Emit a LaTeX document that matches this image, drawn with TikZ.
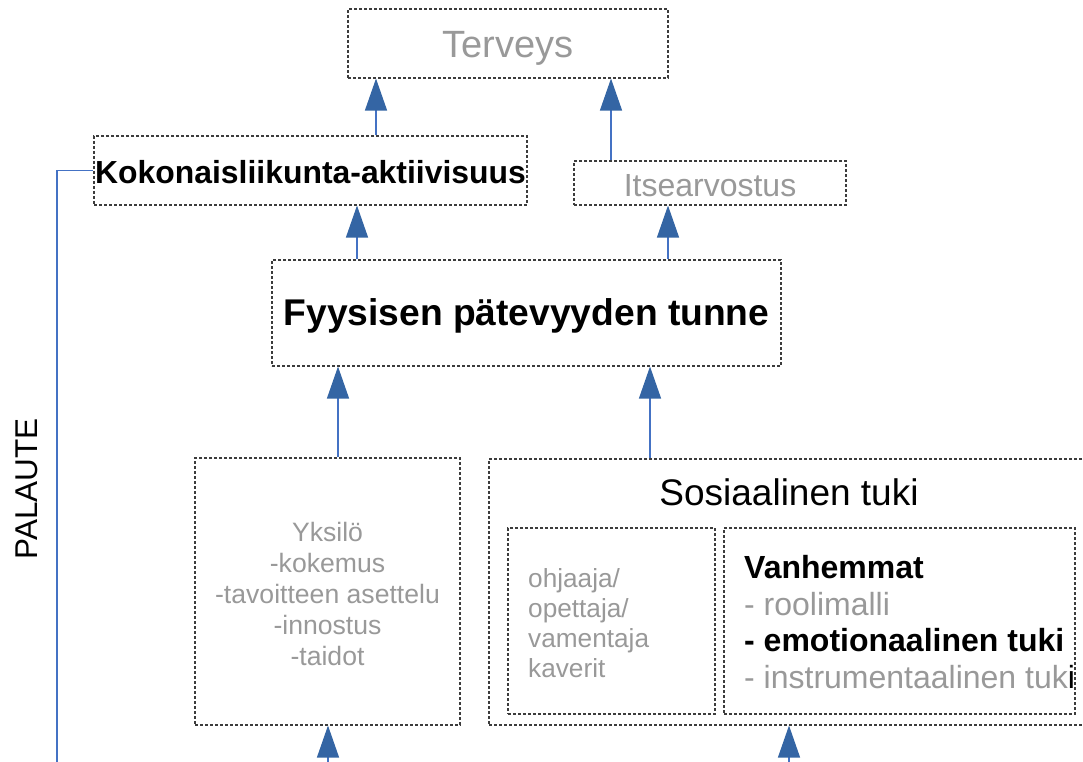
\documentclass[tikz,border=0pt]{standalone}
\usepackage{fontspec}
\setmainfont{Liberation Sans}
\usetikzlibrary{arrows.meta}
\definecolor{txtgray}{RGB}{153,153,153}
\definecolor{boxline}{RGB}{60,60,60}
\definecolor{lineblue}{RGB}{68,114,196}
\definecolor{arrowblue}{RGB}{52,101,164}
\newcommand{\fs}[2]{\fontsize{#1}{#2}\selectfont}
\tikzset{
  dbox/.style={draw=boxline, line width=1.1pt, dash pattern=on 3pt off 2pt, inner sep=0pt, rectangle},
  conn/.style={draw=lineblue, line width=1.2pt, -{Triangle[width=22pt,length=32pt,color=arrowblue]}},
  fbline/.style={draw=lineblue, line width=1.3pt},
}
\begin{document}
\begin{tikzpicture}[x=1pt,y=-1pt, every node/.style={inner sep=0pt}]
\clip (0,0) rectangle (1083,762);
\fill[white] (0,0) rectangle (1083,762);

% boxes
\node[dbox, minimum width=320pt, minimum height=69pt] (terveys) at (508,43.5) {};
\node[text=txtgray, font=\fs{38}{42}] (terveysT) at (508,48) {Terveys};

\node[dbox, minimum width=433pt, minimum height=69pt] (koko) at (310.5,170.5) {};
\node[font=\bfseries\fs{31.9}{36}] (kokoT) at (310.5,172) {Kokonaisliikunta-aktiivisuus};

\node[dbox, minimum width=272pt, minimum height=44pt] (itse) at (710,183) {};
\node[text=txtgray, font=\fs{32}{36}] (itseT) at (710,186) {Itsearvostus};

\node[dbox, minimum width=509pt, minimum height=106pt] (fyys) at (526.5,313) {};
\node[font=\bfseries\fs{37.2}{42}] (fyysT) at (526.5,316) {Fyysisen pätevyyden tunne};

\node[dbox, minimum width=265pt, minimum height=267pt] (yksi) at (327.5,591.5) {};
\node[text=txtgray, align=center, font=\fs{26.6}{31}] (yksiT) at (327.5,594)
  {Yksilö\\-kokemus\\-tavoitteen asettelu\\-innostus\\-taidot};

\node[dbox, minimum width=601pt, minimum height=266pt] (sos) at (789.5,592) {};
\node[font=\fs{37}{41}] (sosT) at (789,492) {Sosiaalinen tuki};

\node[dbox, minimum width=207pt, minimum height=186pt] (inl) at (611.5,621) {};
\node[text=txtgray, align=left, anchor=west, font=\fs{26.2}{30}] (inlT) at (528,623)
  {ohjaaja/\\opettaja/\\vamentaja\\kaverit};

\node[dbox, minimum width=351pt, minimum height=186pt] (inr) at (899.5,621) {};
\node[align=left, anchor=west, font=\fs{32}{36.5}] (inrT) at (744,622)
  {\textbf{Vanhemmat}\\
   \textcolor{txtgray}{- roolimalli}\\
   \textbf{- emotionaalinen tuki}\\
   \textcolor{txtgray}{- instrumentaalinen tuk}i};

% PALAUTE
\node[rotate=90, font=\fs{31.5}{36}] (palaute) at (27,489) {PALAUTE};

% connectors
\draw[conn] ([xshift=65.5pt]koko.north) -- ([xshift=-132pt]terveys.south);
\draw[conn] ([xshift=-99pt]itse.north) -- ([xshift=103pt]terveys.south);
\draw[conn] ([xshift=-169.5pt]fyys.north) -- ([xshift=46.5pt]koko.south);
\draw[conn] ([xshift=141.5pt]fyys.north) -- ([xshift=-42pt]itse.south);
\draw[conn] ([xshift=10.5pt]yksi.north) -- ([xshift=-188.5pt]fyys.south);
\draw[conn] ([xshift=-139.5pt]sos.north) -- ([xshift=123.5pt]fyys.south);

\coordinate (inA) at (328,770);
\coordinate (inB) at (789,770);
\draw[conn] (inA) -- ([xshift=0.5pt]yksi.south);
\draw[conn] (inB) -- ([xshift=-0.5pt]sos.south);

\coordinate (fb) at (57,770);
\draw[fbline] (fb) |- (koko.west);
\end{tikzpicture}
\end{document}
